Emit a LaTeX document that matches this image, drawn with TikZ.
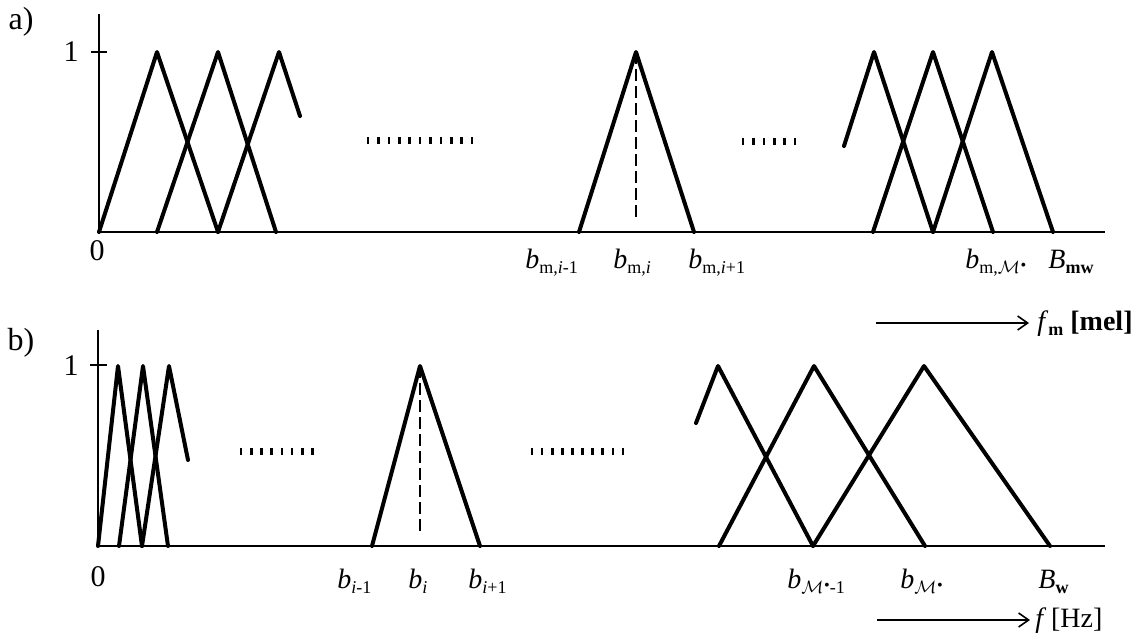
\documentclass[tikz,border=0pt]{standalone}
\usepackage{fontspec}
\setmainfont{Liberation Serif}
\usetikzlibrary{arrows.meta}
\newcommand{\sbs}[1]{\raisebox{-0.45ex}{\fontsize{9}{10}\selectfont #1}}
\newcommand{\Msc}{$\mathcal{M}$\kern0.3pt\raisebox{0.35ex}{\scalebox{0.9}{\textbullet}}}
\begin{document}
\begin{tikzpicture}[x=0.5pt,y=-0.5pt,
  every node/.style={font=\fontsize{14}{16}\selectfont, inner sep=0pt},
  axisline/.style={line width=1pt},
  tri/.style={line width=2pt, line join=round, line cap=round},
  guide/.style={line width=0.7pt, dash pattern=on 6pt off 2.5pt},
  dotmark/.style={line width=1.3pt},
  dirarrow/.style={line width=0.8pt, -{Straight Barb[length=5pt,width=7pt,line width=0.8pt]}},
  lab/.style={anchor=base west},
  num/.style={anchor=base, font=\fontsize{15}{17}\selectfont},
  panel/.style={font=\fontsize{16}{18}\selectfont}]
\useasboundingbox (0,0) rectangle (1146,643);

% ---------------- panel a ----------------
\node[panel] (pa) at (21,22) {a)};
\coordinate (ay0) at (99,14);
\coordinate (ao) at (99,232);
\coordinate (ax1) at (1105,232);
\draw[axisline] (ay0) -- (ao) -- (ax1);
\draw[axisline] (91,52) -- (107,52);
\node[font=\fontsize{15}{17}\selectfont] (a1) at (71,52) {1};
\node[num] (a0) at (97,260) {0};

\draw[tri] (99,232) -- (157,52) -- (218,232);
\draw[tri] (157,232) -- (218,52) -- (276,232);
\draw[tri] (218,232) -- (279,52) -- (300,116);
\foreach \k in {0,...,10} \draw[dotmark] (368+\k*10.4,137) -- ++(0,7);

\draw[tri] (579,232) -- (636,52) -- (694,232);
\draw[guide] (636,52) -- (636,221);
\foreach \k in {0,...,5} \draw[dotmark] (743+\k*10.4,138) -- ++(0,7);

\draw[tri] (844,146) -- (874,52) -- (933,232);
\draw[tri] (873,232) -- (933,52) -- (993,232);
\draw[tri] (933,232) -- (992,52) -- (1053,232);

\node[lab] (abim1) at (525,268) {\textit{b}\sbs{m,\textit{i}-1}};
\node[lab] (abi) at (613,268) {\textit{b}\sbs{m,\textit{i}}};
\node[lab] (abip1) at (688,268) {\textit{b}\sbs{m,\textit{i}+1}};
\node[lab] (abM) at (965,268) {\textit{b}\sbs{m,\Msc}};
\node[lab] (aBmw) at (1048,268) {\textit{B}\sbs{\textbf{mw}}};

\coordinate (aarS) at (876,323);
\coordinate (aarE) at (1029,323);
\draw[dirarrow] (aarS) -- (aarE);
\node[lab] (afm) at (1037,330) {\textit{f}\sbs{\textbf{m}} \textbf{[mel]}};

% ---------------- panel b ----------------
\node[panel] (pb) at (21,343) {b)};
\coordinate (by0) at (98,330);
\coordinate (bo) at (98,546);
\coordinate (bx1) at (1105,546);
\draw[axisline] (by0) -- (bo) -- (bx1);
\draw[axisline] (90,365) -- (107,365);
\node[font=\fontsize{15}{17}\selectfont] (b1) at (71,366) {1};
\node[num] (b0) at (98,586) {0};

\draw[tri] (98,546) -- (118,366) -- (142,546);
\draw[tri] (119,546) -- (143,366) -- (168,546);
\draw[tri] (142,546) -- (169,366) -- (188,460);
\foreach \k in {0,...,7} \draw[dotmark] (241+\k*10.2,448) -- ++(0,7);

\draw[tri] (372,546) -- (420,366) -- (480,546);
\draw[guide] (420,366) -- (420,535);
\foreach \k in {0,...,9} \draw[dotmark] (532+\k*10.1,448) -- ++(0,7);

\draw[tri] (696,423) -- (718,366) -- (813,546);
\draw[tri] (719,546) -- (814,366) -- (925,546);
\draw[tri] (813,546) -- (924,366) -- (1050,546);

\node[lab] (bbim1) at (337,588) {\textit{b}\sbs{\textit{i}-1}};
\node[lab] (bbi) at (408,588) {\textit{b}\sbs{\textit{i}}};
\node[lab] (bbip1) at (468,588) {\textit{b}\sbs{\textit{i}+1}};
\node[lab] (bbMm1) at (787,588) {\textit{b}\sbs{\Msc-1}};
\node[lab] (bbM) at (900,588) {\textit{b}\sbs{\Msc}};
\node[lab] (bBw) at (1038,588) {\textit{B}\sbs{\textbf{w}}};

\coordinate (barS) at (877,620);
\coordinate (barE) at (1030,620);
\draw[dirarrow] (barS) -- (barE);
\node[lab] (bf) at (1035,627) {\textit{f}\,[Hz]};
\end{tikzpicture}
\end{document}
